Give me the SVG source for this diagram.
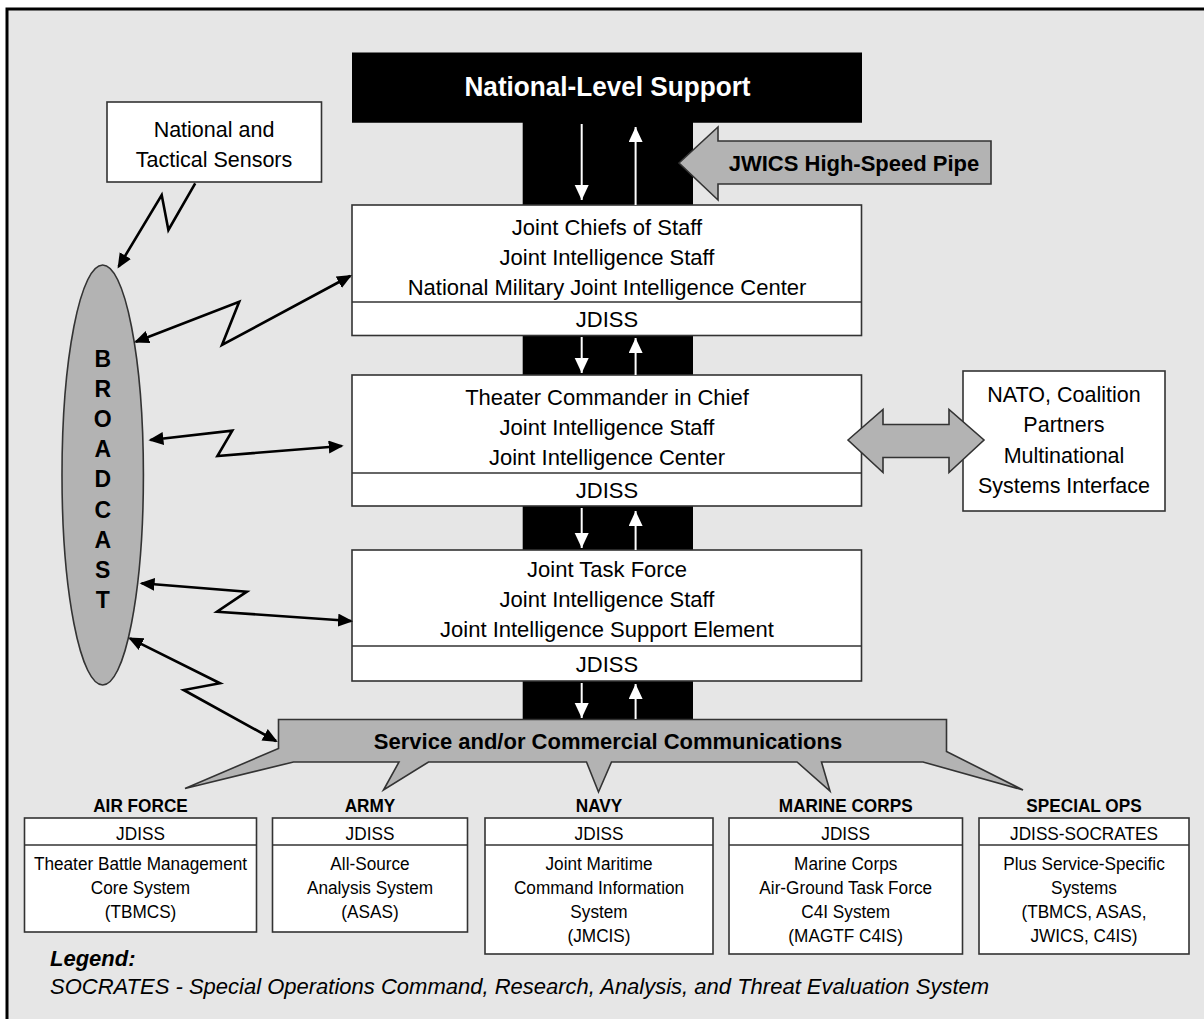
<svg xmlns="http://www.w3.org/2000/svg" width="1204" height="1019" viewBox="0 0 1204 1019">
<style>
text{font-family:"Liberation Sans",Arial,sans-serif;fill:#000}
.t22{font-size:22px;text-anchor:middle}
.t21{font-size:21.5px;text-anchor:middle}
.t18{font-size:18.5px;text-anchor:middle}
.lbl{font-size:18.5px;font-weight:bold;text-anchor:middle}
.box{fill:#fff;stroke:#333;stroke-width:1.6}
.div{stroke:#333;stroke-width:1.6;fill:none}
.gray{fill:#b3b3b3;stroke:#333;stroke-width:1.6;stroke-linejoin:miter}
.bolt{fill:none;stroke:#000;stroke-width:2.6;stroke-linejoin:miter;marker-start:url(#blk);marker-end:url(#blk)}
.bolt1{fill:none;stroke:#000;stroke-width:2.6;stroke-linejoin:miter;marker-end:url(#blk)}
.pipe{stroke:#fff;stroke-width:2;fill:none;marker-end:url(#wht)}
</style>
<defs>
<marker id="blk" markerUnits="userSpaceOnUse" markerWidth="16" markerHeight="14" viewBox="0 0 16 14" refX="13" refY="6.5" orient="auto-start-reverse">
<path d="M0,0 L15,6.5 L0,13 Z" fill="#000"/>
</marker>
<marker id="wht" markerUnits="userSpaceOnUse" markerWidth="16" markerHeight="16" viewBox="0 0 16 16" refX="15" refY="7" orient="auto">
<path d="M0,0 L15,7 L0,14 Z" fill="#fff"/>
</marker>
</defs>
<rect x="0" y="0" width="1204" height="1019" fill="#fff"/>
<rect x="7" y="9" width="1215" height="1030" fill="#e6e6e6" stroke="#000" stroke-width="3"/>

<g id="national-level-support">
<path d="M352,52.5 H862 V122.7 H693 V720 H522.7 V122.7 H352 Z" fill="#000"/>
<text x="607.5" y="96" font-size="28" font-weight="bold" text-anchor="middle" textLength="286" lengthAdjust="spacingAndGlyphs" style="fill:#fff">National-Level Support</text>
</g>

<g id="jwics-pipe">
<path class="gray" d="M679,163 L718,127 L718,141 L991,141 L991,184 L718,184 L718,200 Z"/>
<text x="854" y="171" font-size="22" font-weight="bold" text-anchor="middle">JWICS High-Speed Pipe</text>
</g>

<g id="jcs">
<rect class="box" x="352" y="205" width="509.5" height="130.5"/>
<line class="div" x1="352" y1="302" x2="861.5" y2="302"/>
<text class="t22" x="607" y="235">Joint Chiefs of Staff</text>
<text class="t22" x="607" y="265">Joint Intelligence Staff</text>
<text class="t22" x="607" y="295">National Military Joint Intelligence Center</text>
<text class="t22" x="607" y="327">JDISS</text>
</g>

<g id="theater">
<rect class="box" x="352" y="375" width="509.5" height="131"/>
<line class="div" x1="352" y1="473" x2="861.5" y2="473"/>
<text class="t22" x="607" y="405">Theater Commander in Chief</text>
<text class="t22" x="607" y="435">Joint Intelligence Staff</text>
<text class="t22" x="607" y="465">Joint Intelligence Center</text>
<text class="t22" x="607" y="498">JDISS</text>
</g>

<g id="jtf">
<rect class="box" x="352" y="550" width="509.5" height="131"/>
<line class="div" x1="352" y1="646" x2="861.5" y2="646"/>
<text class="t22" x="607" y="577">Joint Task Force</text>
<text class="t22" x="607" y="607">Joint Intelligence Staff</text>
<text class="t22" x="607" y="637">Joint Intelligence Support Element</text>
<text class="t22" x="607" y="672">JDISS</text>
</g>

<g id="nato">
<rect class="box" x="963" y="371" width="202" height="140"/>
<text class="t21" x="1064" y="402">NATO, Coalition</text>
<text class="t21" x="1064" y="432">Partners</text>
<text class="t21" x="1064" y="463">Multinational</text>
<text class="t21" x="1064" y="493">Systems Interface</text>
</g>

<g id="sensors">
<rect class="box" x="107" y="102" width="214.5" height="80"/>
<text class="t21" x="214" y="137">National and</text>
<text class="t21" x="214" y="167">Tactical Sensors</text>
</g>

<g id="broadcast">
<ellipse cx="102.7" cy="475" rx="40.7" ry="210" fill="#b3b3b3" stroke="#333" stroke-width="1.6"/>
<g font-size="23" font-weight="bold" text-anchor="middle">
<text x="102.7" y="366.5">B</text>
<text x="102.7" y="396.7">R</text>
<text x="102.7" y="426.9">O</text>
<text x="102.7" y="457.1">A</text>
<text x="102.7" y="487.3">D</text>
<text x="102.7" y="517.5">C</text>
<text x="102.7" y="547.7">A</text>
<text x="102.7" y="577.9">S</text>
<text x="102.7" y="608.1">T</text>
</g>
</g>

<g id="service-comms">
<path class="gray" d="M278.5,719.5 H946.5 V751.5 L1023,790 L923,762 H821.5 L830,791 L797,762 H611.5 L598.5,792 L586.5,762 H428.5 L383.5,790 L399,762 H293.5 L185,788.5 L278.5,748.5 Z"/>
<text x="608" y="749" font-size="22" font-weight="bold" text-anchor="middle">Service and/or Commercial Communications</text>
</g>

<g id="connectors">
<line class="pipe" x1="581.7" y1="124" x2="581.7" y2="200"/>
<line class="pipe" x1="635.6" y1="205" x2="635.6" y2="127"/>
<line class="pipe" x1="581.7" y1="337" x2="581.7" y2="373"/>
<line class="pipe" x1="635.6" y1="375" x2="635.6" y2="338"/>
<line class="pipe" x1="581.7" y1="508" x2="581.7" y2="548"/>
<line class="pipe" x1="635.6" y1="550" x2="635.6" y2="511"/>
<line class="pipe" x1="581.7" y1="683" x2="581.7" y2="718"/>
<line class="pipe" x1="635.6" y1="719" x2="635.6" y2="684"/>
<path class="gray" d="M848,440 L883,409.5 L883,424.5 L949,424.5 L949,409.5 L984,440 L949,472.5 L949,457.5 L883,457.5 L883,472.5 Z"/>
<polyline class="bolt1" points="195.2,183.3 168.4,230 161.7,195 118.6,266.7"/>
<polyline class="bolt" points="135.9,341.7 239.2,301.7 222,345 350.2,276"/>
<polyline class="bolt" points="150.4,440 232.3,430.7 217.4,456 341.7,446"/>
<polyline class="bolt" points="141.6,583.3 246.8,591.7 217,611.7 351,621"/>
<polyline class="bolt" points="130,638.3 220,683.3 183.7,690 276,741"/>
</g>

<g id="air-force">
<rect class="box" x="24.5" y="818" width="232" height="114"/>
<line class="div" x1="24.5" y1="845" x2="256.5" y2="845"/>
<g transform="translate(140.5,0) scale(0.93,1)">
<text class="lbl" x="0" y="812">AIR FORCE</text>
<text class="t18" x="0" y="840">JDISS</text>
<text class="t18" x="0" y="870">Theater Battle Management</text>
<text class="t18" x="0" y="894">Core System</text>
<text class="t18" x="0" y="918">(TBMCS)</text>
</g>
</g>

<g id="army">
<rect class="box" x="272.5" y="818" width="195" height="114"/>
<line class="div" x1="272.5" y1="845" x2="467.5" y2="845"/>
<g transform="translate(370,0) scale(0.93,1)">
<text class="lbl" x="0" y="812">ARMY</text>
<text class="t18" x="0" y="840">JDISS</text>
<text class="t18" x="0" y="870">All-Source</text>
<text class="t18" x="0" y="894">Analysis System</text>
<text class="t18" x="0" y="918">(ASAS)</text>
</g>
</g>

<g id="navy">
<rect class="box" x="485" y="818" width="228" height="136"/>
<line class="div" x1="485" y1="845" x2="713" y2="845"/>
<g transform="translate(599,0) scale(0.93,1)">
<text class="lbl" x="0" y="812">NAVY</text>
<text class="t18" x="0" y="840">JDISS</text>
<text class="t18" x="0" y="870">Joint Maritime</text>
<text class="t18" x="0" y="894">Command Information</text>
<text class="t18" x="0" y="918">System</text>
<text class="t18" x="0" y="942">(JMCIS)</text>
</g>
</g>

<g id="marine-corps">
<rect class="box" x="729" y="818" width="233.5" height="136"/>
<line class="div" x1="729" y1="845" x2="962.5" y2="845"/>
<g transform="translate(845.7,0) scale(0.93,1)">
<text class="lbl" x="0" y="812">MARINE CORPS</text>
<text class="t18" x="0" y="840">JDISS</text>
<text class="t18" x="0" y="870">Marine Corps</text>
<text class="t18" x="0" y="894">Air-Ground Task Force</text>
<text class="t18" x="0" y="918">C4I System</text>
<text class="t18" x="0" y="942">(MAGTF C4IS)</text>
</g>
</g>

<g id="special-ops">
<rect class="box" x="979" y="818" width="210" height="136"/>
<line class="div" x1="979" y1="845" x2="1189" y2="845"/>
<g transform="translate(1084,0) scale(0.93,1)">
<text class="lbl" x="0" y="812">SPECIAL OPS</text>
<text class="t18" x="0" y="840">JDISS-SOCRATES</text>
<text class="t18" x="0" y="870">Plus Service-Specific</text>
<text class="t18" x="0" y="894">Systems</text>
<text class="t18" x="0" y="918">(TBMCS, ASAS,</text>
<text class="t18" x="0" y="942">JWICS, C4IS)</text>
</g>
</g>

<g id="legend">
<text x="50" y="966" font-size="22" font-weight="bold" font-style="italic">Legend:</text>
<text x="50" y="994" font-size="22" font-style="italic">SOCRATES - Special Operations Command, Research, Analysis, and Threat Evaluation System</text>
</g>
</svg>
